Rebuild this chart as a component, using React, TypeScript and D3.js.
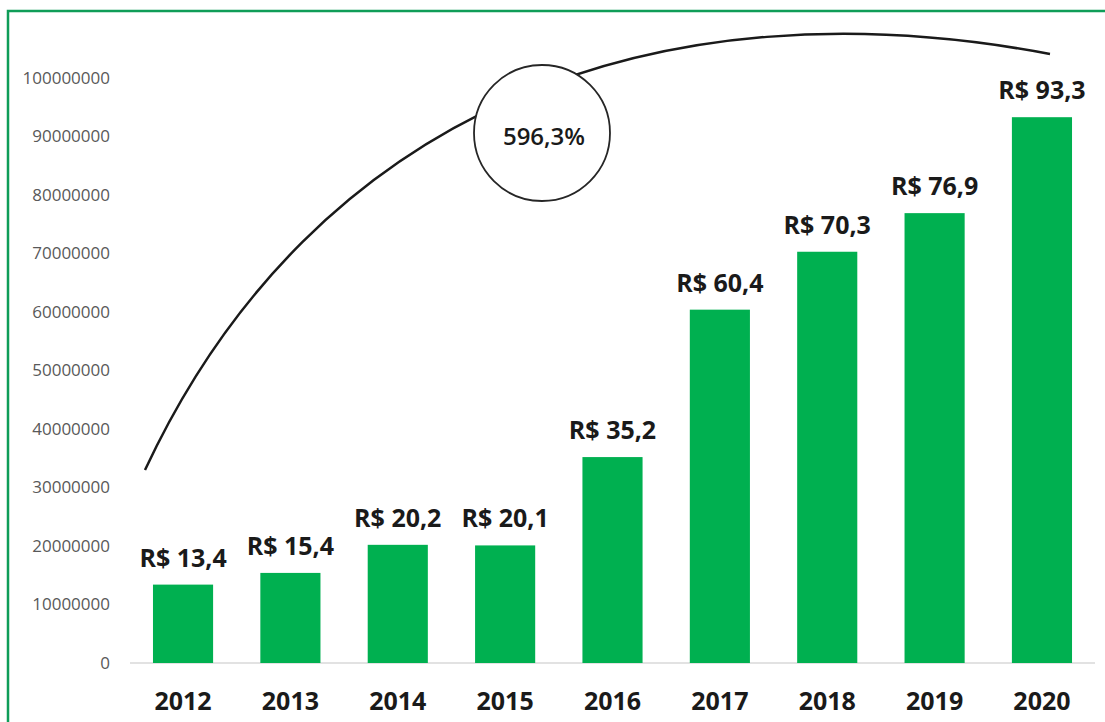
import { useEffect, useRef } from "react"
import * as d3 from "d3"

const years = ["2012", "2013", "2014", "2015", "2016", "2017", "2018", "2019", "2020"]
const values = [13400000, 15400000, 20200000, 20100000, 35200000, 60400000, 70300000, 76900000, 93300000]
const valueLabels = ["R$ 13,4", "R$ 15,4", "R$ 20,2", "R$ 20,1", "R$ 35,2", "R$ 60,4", "R$ 70,3", "R$ 76,9", "R$ 93,3"]
const yTicks = [0, 10000000, 20000000, 30000000, 40000000, 50000000, 60000000, 70000000, 80000000, 90000000, 100000000]
const growthLabel = "596,3%"

const W = 1105
const H = 722
const GREEN = "#00b050"

function App() {
	const ref = useRef<SVGSVGElement>(null)

	useEffect(() => {
		const svg = d3.select(ref.current)
		svg.selectAll("*").remove()

		svg.append("rect").attr("width", W).attr("height", H).attr("fill", "#fff")

		// green frame (runs off the right and bottom edges)
		svg
			.append("rect")
			.attr("x", 8)
			.attr("y", 11)
			.attr("width", W + 20)
			.attr("height", H + 20)
			.attr("fill", "none")
			.attr("stroke", "#0f9d58")
			.attr("stroke-width", 2.5)

		const x = d3
			.scaleBand()
			.domain(years)
			.range([130, 1095])
			.paddingInner(0.44)
			.paddingOuter(0.214)

		const y = d3.scaleLinear().domain([0, 100000000]).range([663, 78])

		svg
			.append("g")
			.selectAll("text")
			.data(yTicks)
			.enter()
			.append("text")
			.attr("x", 110)
			.attr("y", (d) => y(d))
			.attr("dy", "0.35em")
			.attr("text-anchor", "end")
			.attr("font-family", "Open Sans")
			.attr("font-size", 17)
			.attr("fill", "#595959")
			.text((d) => d3.format("d")(d))

		svg
			.append("line")
			.attr("x1", 130)
			.attr("x2", 1095)
			.attr("y1", y(0))
			.attr("y2", y(0))
			.attr("stroke", "#d9d9d9")
			.attr("stroke-width", 1.5)

		svg
			.append("g")
			.selectAll("rect")
			.data(values)
			.enter()
			.append("rect")
			.attr("x", (d, i) => x(years[i]) as number)
			.attr("y", (d) => y(d))
			.attr("width", x.bandwidth())
			.attr("height", (d) => y(0) - y(d))
			.attr("fill", GREEN)

		svg
			.append("g")
			.selectAll("text")
			.data(values)
			.enter()
			.append("text")
			.attr("x", (d, i) => (x(years[i]) as number) + x.bandwidth() / 2)
			.attr("y", (d) => y(d) - 18)
			.attr("text-anchor", "middle")
			.attr("font-family", "Open Sans")
			.attr("font-weight", "bold")
			.attr("font-size", 25)
			.attr("fill", "#1a1a1a")
			.text((d, i) => valueLabels[i])

		svg
			.append("g")
			.selectAll("text")
			.data(years)
			.enter()
			.append("text")
			.attr("x", (d) => (x(d) as number) + x.bandwidth() / 2)
			.attr("y", 701)
			.attr("dy", "0.35em")
			.attr("text-anchor", "middle")
			.attr("font-family", "Open Sans")
			.attr("font-weight", "bold")
			.attr("font-size", 25)
			.attr("fill", "#1a1a1a")
			.text((d) => d)

		// growth arc, from the 2012 side up to above 2020
		const arc = d3.path()
		arc.moveTo(145, 470)
		arc.bezierCurveTo(314, 108, 658, -20, 1050, 54)
		svg
			.append("path")
			.attr("d", arc.toString())
			.attr("fill", "none")
			.attr("stroke", "#1a1a1a")
			.attr("stroke-width", 2.5)

		svg
			.append("circle")
			.attr("cx", 542)
			.attr("cy", 133)
			.attr("r", 68)
			.attr("fill", "#fff")
			.attr("stroke", "#262626")
			.attr("stroke-width", 1.8)

		svg
			.append("text")
			.attr("x", 544)
			.attr("y", 137)
			.attr("dy", "0.35em")
			.attr("text-anchor", "middle")
			.attr("font-family", "Open Sans")
			.attr("font-weight", 600)
			.attr("font-size", 24)
			.attr("fill", "#1a1a1a")
			.text(growthLabel)
	}, [])

	return (
		<div style={{ position: "absolute", left: 0, top: 0 }}>
			<svg ref={ref} width={W} height={H} style={{ display: "block" }}></svg>
		</div>
	)
}

export default App
